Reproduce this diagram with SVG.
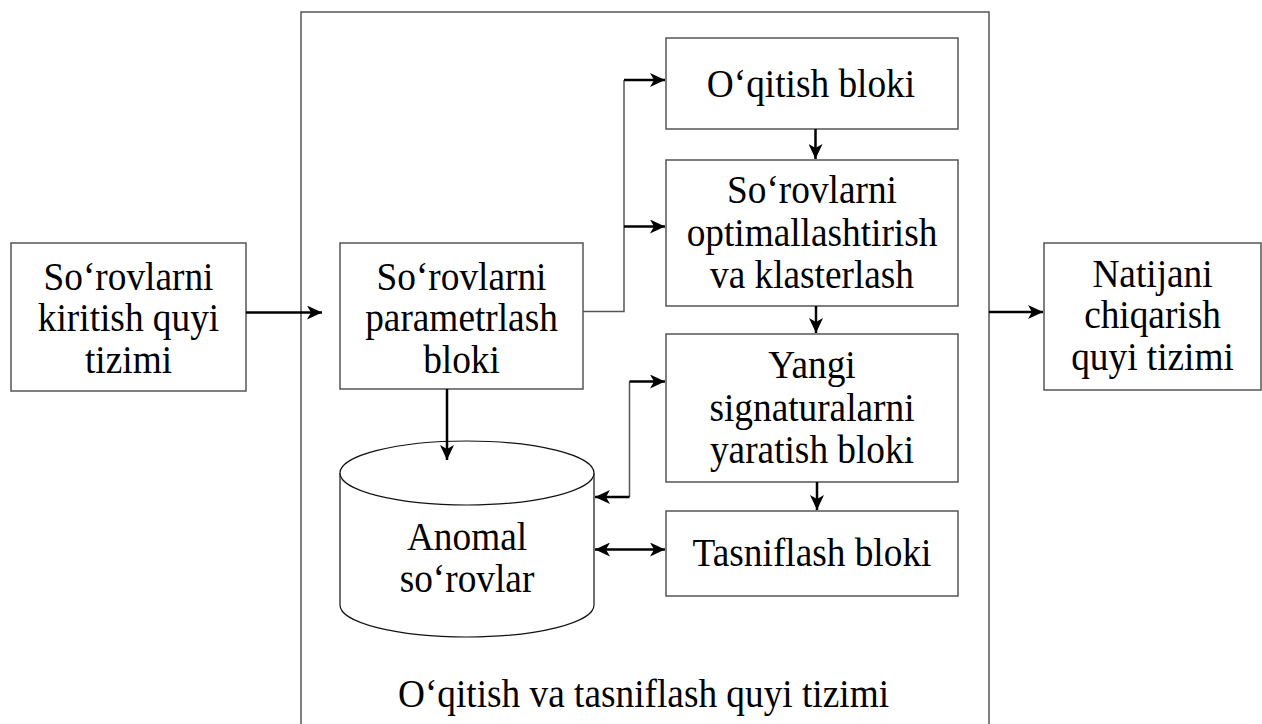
<svg xmlns="http://www.w3.org/2000/svg" width="1262" height="724" viewBox="0 0 1262 724">
<defs>
<marker id="ah" markerUnits="userSpaceOnUse" markerWidth="16" markerHeight="14" refX="15" refY="7" orient="auto-start-reverse">
<path d="M0,0 L15,7 L0,14 L4,7 z" fill="#000"/>
</marker>
<style>
.box{fill:#fff;stroke:#555;stroke-width:1.5}
.cyl{fill:#fff;stroke:#111;stroke-width:1.2}
.t{font-family:"Liberation Serif","Times New Roman",serif;font-size:41px;fill:#000;text-anchor:middle}
.arr{fill:none;stroke:#000;stroke-width:2.5;marker-end:url(#ah)}
.arr2{fill:none;stroke:#000;stroke-width:2.5;marker-start:url(#ah);marker-end:url(#ah)}
.thin{fill:none;stroke:#555;stroke-width:1.5}
</style>
</defs>
<rect width="1262" height="724" fill="#fff"/>
<g id="outer">
<rect class="box" x="301" y="12" width="688" height="800"/>
<g transform="translate(643.5,0) scale(0.91,1)">
<text class="t" x="0" y="707">O‘qitish va tasniflash quyi tizimi</text>
</g>
</g>
<g id="input">
<rect class="box" x="11" y="243" width="235" height="148"/>
<g transform="translate(128.5,0) scale(0.91,1)">
<text class="t" x="0" y="290">So‘rovlarni</text>
<text class="t" x="0" y="331.5">kiritish quyi</text>
<text class="t" x="0" y="373">tizimi</text>
</g>
</g>
<g id="param">
<rect class="box" x="340" y="243" width="243" height="146"/>
<g transform="translate(461.5,0) scale(0.91,1)">
<text class="t" x="0" y="290">So‘rovlarni</text>
<text class="t" x="0" y="331.5">parametrlash</text>
<text class="t" x="0" y="373">bloki</text>
</g>
</g>
<g id="oqitish">
<rect class="box" x="666" y="38" width="292" height="91"/>
<g transform="translate(811,0) scale(0.91,1)">
<text class="t" x="0" y="97">O‘qitish bloki</text>
</g>
</g>
<g id="optim">
<rect class="box" x="666" y="160" width="292" height="146"/>
<g transform="translate(812,0) scale(0.91,1)">
<text class="t" x="0" y="203">So‘rovlarni</text>
<text class="t" x="0" y="246">optimallashtirish</text>
<text class="t" x="0" y="288">va klasterlash</text>
</g>
</g>
<g id="yangi">
<rect class="box" x="666" y="334" width="292" height="148"/>
<g transform="translate(812,0) scale(0.91,1)">
<text class="t" x="0" y="378">Yangi</text>
<text class="t" x="0" y="421">signaturalarni</text>
<text class="t" x="0" y="463">yaratish bloki</text>
</g>
</g>
<g id="tasnif">
<rect class="box" x="666" y="511" width="292" height="85"/>
<g transform="translate(812,0) scale(0.91,1)">
<text class="t" x="0" y="566">Tasniflash bloki</text>
</g>
</g>
<g id="anomal">
<path class="cyl" d="M340,473 A127,32 0 0 1 594,473 L594,605 A127,32 0 0 1 340,605 Z"/>
<path class="cyl" d="M340,473 A127,32 0 0 0 594,473" fill="none"/>
<g transform="translate(467,0) scale(0.91,1)">
<text class="t" x="0" y="550">Anomal</text>
<text class="t" x="0" y="592">so‘rovlar</text>
</g>
</g>
<g id="natija">
<rect class="box" x="1044" y="243" width="217" height="147"/>
<g transform="translate(1152.5,0) scale(0.91,1)">
<text class="t" x="0" y="287">Natijani</text>
<text class="t" x="0" y="328">chiqarish</text>
<text class="t" x="0" y="370">quyi tizimi</text>
</g>
</g>
<g id="connectors">
<line class="arr" x1="246" y1="312.5" x2="322" y2="312.5"/>
<polyline class="thin" points="583,311.5 624,311.5 624,80"/>
<line class="arr" x1="624" y1="80" x2="665" y2="80"/>
<line class="arr" x1="624" y1="226.5" x2="665" y2="226.5"/>
<line class="arr" x1="815.5" y1="129" x2="815.5" y2="159"/>
<line class="arr" x1="816" y1="306" x2="816" y2="333"/>
<line class="arr" x1="817" y1="482" x2="817" y2="510"/>
<line class="arr" x1="447" y1="389" x2="447" y2="460"/>
<line class="thin" x1="629.5" y1="381.5" x2="629.5" y2="497"/>
<line class="arr" x1="629.5" y1="381.5" x2="665" y2="381.5"/>
<line class="arr" x1="629.5" y1="497" x2="595" y2="497"/>
<line class="arr2" x1="595" y1="549.5" x2="665" y2="549.5"/>
<line class="arr" x1="989" y1="312" x2="1043" y2="312"/>
</g>
</svg>
